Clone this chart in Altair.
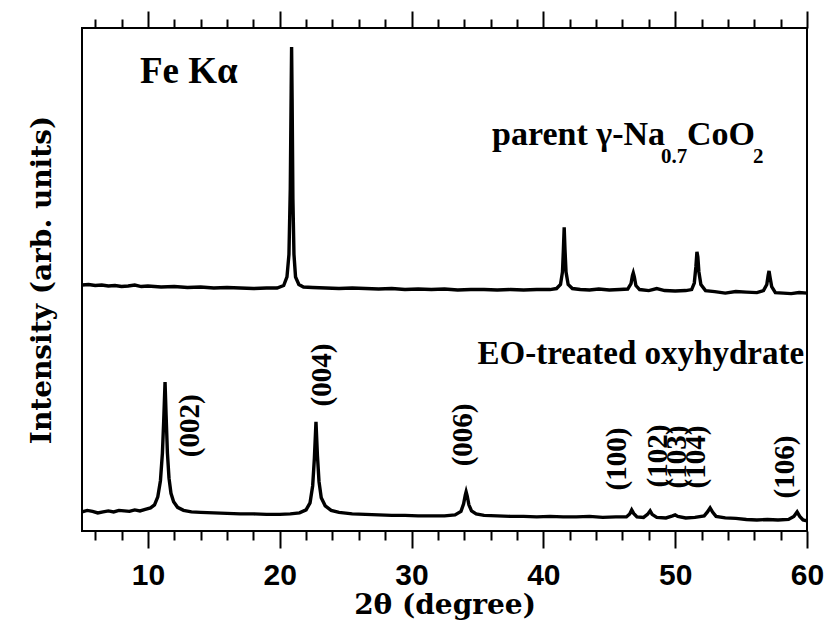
import altair as alt
import pandas as pd

# ---------------- data ----------------
parent_x = [5.0, 5.5, 6.0, 6.5, 7.0, 7.5, 8.0, 8.5, 9.0, 9.5, 10.0, 11.0, 12.0, 13.0, 14.0,
            15.0, 16.0, 17.0, 18.0, 19.0, 19.8, 20.3, 20.55, 20.7, 20.8, 20.87, 20.9, 20.94,
            21.0, 21.08, 21.2, 21.45, 21.8, 22.5, 23.5, 24.5, 25.5, 26.5, 27.5, 28.5, 29.5,
            30.5, 31.5, 32.5, 33.5, 34.5, 35.5, 36.5, 37.5, 38.5, 39.5, 40.5, 41.0, 41.3,
            41.45, 41.52, 41.58, 41.64, 41.72, 41.88, 42.2, 42.8, 43.5, 44.2, 45.0, 45.8,
            46.4, 46.65, 46.76, 46.82, 46.9, 47.02, 47.3, 48.0, 48.6, 49.2, 50.0, 50.8,
            51.25, 51.45, 51.57, 51.65, 51.72, 51.8, 51.95, 52.3, 53.0, 53.8, 54.6, 55.4,
            56.2, 56.7, 56.95, 57.05, 57.12, 57.2, 57.32, 57.6, 58.2, 58.8, 59.4, 60.0]
parent_y = [48.9, 49.0, 48.8, 48.9, 48.7, 48.8, 48.6, 48.7, 48.9, 48.6, 48.7, 48.5, 48.6, 48.4, 48.5,
            48.3, 48.4, 48.3, 48.2, 48.3, 48.3, 48.8, 50.5, 55.0, 68.0, 88.0, 96.2, 86.0,
            66.0, 55.0, 50.5, 49.0, 48.5, 48.4, 48.3, 48.2, 48.3, 48.2, 48.1, 48.2, 48.0,
            48.1, 48.0, 48.1, 47.9, 48.0, 48.0, 47.9, 48.0, 47.9, 48.0, 48.0, 48.2, 49.0,
            51.5, 56.0, 60.4, 56.0, 51.5, 49.0, 48.2, 48.0, 47.9, 48.1, 47.9, 48.0,
            48.1, 49.2, 50.8, 51.3, 50.5, 48.8, 48.0, 47.8, 48.2, 47.8, 47.7, 47.8,
            48.0, 49.3, 52.5, 55.5, 54.5, 51.5, 49.0, 47.8, 47.6, 47.3, 47.6, 47.5,
            47.4, 47.8, 49.0, 50.8, 51.7, 50.4, 48.6, 47.4, 47.3, 47.2, 47.4, 47.3]

eo_x = [5.0, 5.4, 5.8, 6.2, 6.6, 7.0, 7.4, 7.8, 8.2, 8.6, 9.0, 9.4, 9.8, 10.2, 10.5, 10.75,
        10.95, 11.1, 11.2, 11.3, 11.38, 11.48, 11.6, 11.75, 11.95, 12.25, 12.7, 13.3, 14.0,
        15.0, 16.0, 17.0, 18.0, 19.0, 20.0, 20.8, 21.5, 22.0, 22.3, 22.5, 22.63, 22.75,
        22.86, 22.98, 23.15, 23.45, 23.9, 24.5, 25.5, 26.5, 27.5, 28.5, 29.5, 30.5, 31.5,
        32.5, 33.3, 33.75, 33.95, 34.08, 34.14, 34.22, 34.35, 34.55, 34.9, 35.5, 36.5,
        37.5, 38.5, 39.5, 40.5, 41.5, 42.5, 43.5, 44.5, 45.5, 46.3, 46.55, 46.7, 46.85,
        47.1, 47.6, 47.9, 48.1, 48.25, 48.6, 49.3, 49.8, 50.0, 50.2, 50.8, 51.5, 52.2,
        52.45, 52.65, 52.85, 53.1, 53.8, 54.6, 55.4, 56.2, 57.0, 57.8, 58.6, 59.0, 59.25,
        59.45, 59.7, 60.0]
eo_y = [3.8, 4.1, 3.9, 3.6, 3.8, 4.0, 3.8, 4.1, 4.0, 3.9, 4.2, 4.0, 4.3, 4.6, 5.2, 6.8,
        10.0, 15.5, 22.0, 29.6, 23.0, 15.5, 10.5, 7.5, 5.8, 4.7, 4.1, 3.8, 3.7,
        3.6, 3.5, 3.4, 3.4, 3.3, 3.3, 3.4, 3.6, 4.2, 5.6, 9.0, 14.5, 21.7,
        15.0, 9.8, 6.6, 5.0, 4.1, 3.7, 3.4, 3.3, 3.2, 3.1, 3.1, 3.0, 3.0,
        3.0, 3.2, 3.9, 5.4, 7.2, 7.8, 7.0, 5.2, 4.0, 3.4, 3.1, 3.0,
        2.9, 2.9, 2.8, 2.9, 2.8, 2.8, 2.9, 2.7, 2.8, 2.8, 3.4, 4.2, 3.5,
        2.8, 2.7, 3.3, 4.0, 3.3, 2.7, 2.6, 3.0, 3.2, 2.9, 2.6, 2.7, 3.0,
        3.8, 4.6, 3.7, 2.9, 2.6, 2.5, 2.3, 2.2, 2.3, 2.2, 2.3, 2.9, 3.8,
        2.9, 2.2, 2.0]

major_ticks = [10, 20, 30, 40, 50, 60]
minor_ticks = [6, 8, 12, 14, 16, 18, 22, 24, 26, 28, 32, 34, 36, 38,
               42, 44, 46, 48, 52, 54, 56, 58]

hkl_text = ["(002)", "(004)", "(006)", "(100)", "(102)", "(103)", "(104)", "(106)"]
hkl_x = [13.2, 23.21, 33.91, 45.59, 48.70, 50.14, 51.59, 58.34]
hkl_y = [20.9, 31.0, 19.1, 14.3, 14.9, 14.7, 14.7, 12.7]

left_text = ["Fe Kα"]
left_x = [9.4]
left_y = [89.1]

right_text = ["EO-treated oxyhydrate"]
right_x = [59.78]
right_y = [33.2]

formula_big_text = ["parent γ-Na", "CoO"]
formula_big_x = [36.11, 50.90]
formula_big_y = [76.7, 76.7]
formula_sub_text = ["0.7", "2"]
formula_sub_x = [48.93, 55.9]
formula_sub_y = [73.2, 73.2]

# ---------------- chart ----------------
X_DOMAIN = [5, 60]
Y_DOMAIN = [0, 100]
tick_values = sorted(major_ticks + minor_ticks)
tick_size = {"condition": {"test": "datum.value % 10 === 0", "value": 17}, "value": 9}

xscale = alt.Scale(domain=X_DOMAIN, nice=False, zero=False)
yscale = alt.Scale(domain=Y_DOMAIN, nice=False, zero=False)

W, H = 725, 503

bottom_axis = alt.Axis(
    values=tick_values, tickSize=tick_size, tickWidth=2, tickColor="black",
    domain=False, grid=False,
    labelExpr="datum.value % 10 === 0 ? datum.label : ''",
    labelFont="Liberation Sans", labelFontWeight="bold", labelFontSize=30,
    labelColor="black", labelPadding=12, labelFlush=False, labelOverlap=False,
    title="2θ (degree)", titleFont="DejaVu Serif", titleFontWeight="bold",
    titleFontSize=28, titleColor="black", titleX=W / 2, titleY=82,
    titleBaseline="alphabetic", titleAlign="center",
)
top_axis = alt.Axis(
    orient="top", values=tick_values, tickSize=tick_size, tickWidth=2,
    tickColor="black", domain=False, grid=False, labels=False, title=None,
)
y_axis = alt.Axis(
    title="Intensity (arb. units)", labels=False, ticks=False, domain=False, grid=False,
    titleFont="DejaVu Serif", titleFontWeight="bold", titleFontSize=28, titleColor="black",
    titleAngle=270, titleX=-40, titleY=H / 2, titleBaseline="middle", titleAlign="center",
)

parent_df = pd.DataFrame({"x": parent_x, "y": parent_y})
eo_df = pd.DataFrame({"x": eo_x, "y": eo_y})

parent_line = alt.Chart(parent_df).mark_line(color="black", strokeWidth=3.4).encode(
    x=alt.X("x:Q", scale=xscale, axis=bottom_axis),
    y=alt.Y("y:Q", scale=yscale, axis=y_axis),
    order="x:Q",
)
eo_line = alt.Chart(eo_df).mark_line(color="black", strokeWidth=3.4).encode(
    x=alt.X("x:Q", scale=xscale, axis=top_axis),
    y=alt.Y("y:Q", scale=yscale, axis=y_axis),
    order="x:Q",
)


def text_layer(texts, xs, ys, **kw):
    df = pd.DataFrame({"t": texts, "x": xs, "y": ys})
    return alt.Chart(df).mark_text(color="black", font="Liberation Serif",
                                   fontWeight="bold", **kw).encode(
        x=alt.X("x:Q", scale=xscale, axis=None),
        y=alt.Y("y:Q", scale=yscale, axis=y_axis),
        text="t:N",
    )


fe = text_layer(left_text, left_x, left_y, fontSize=37, align="left", baseline="alphabetic")
eo_lab = text_layer(right_text, right_x, right_y, fontSize=33, align="right", baseline="alphabetic")
f_big = text_layer(formula_big_text, formula_big_x, formula_big_y, fontSize=34,
                   align="left", baseline="alphabetic")
f_sub = text_layer(formula_sub_text, formula_sub_x, formula_sub_y, fontSize=21,
                   align="left", baseline="alphabetic")
hkl = text_layer(hkl_text, hkl_x, hkl_y, fontSize=29, angle=270,
                 align="center", baseline="middle")

chart = alt.layer(parent_line, eo_line, fe, eo_lab, f_big, f_sub, hkl).resolve_axis(
    x="independent"
).properties(
    width=W, height=H, autosize="none",
    padding={"left": 82, "top": 28, "right": 23, "bottom": 93},
    background="white",
).configure_view(stroke="black", strokeWidth=2)

chart.save("out.html", embed_options={"renderer": "svg", "actions": False})
